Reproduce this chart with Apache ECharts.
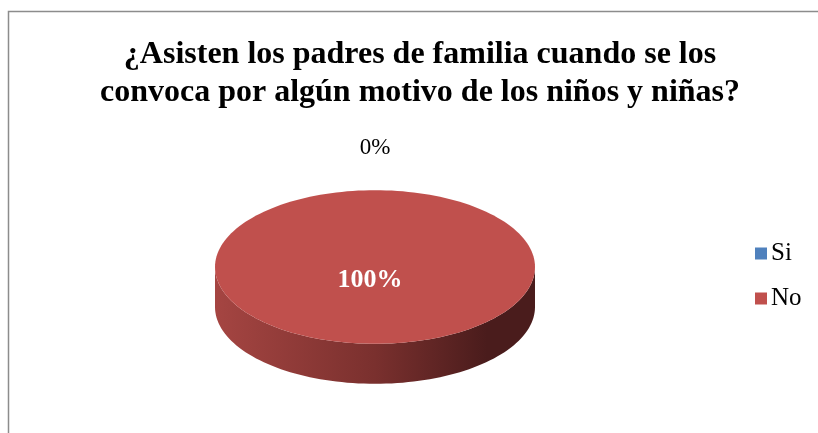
<!DOCTYPE html>
<html>
<head>
<meta charset="utf-8">
<script src="https://cdn.jsdelivr.net/npm/echarts@6/dist/echarts.min.js"></script>
<style>
  html, body { margin: 0; padding: 0; background: #fff; }
  #chart { width: 818px; height: 433px; }
</style>
</head>
<body>
<div id="chart"></div>
<script>
const categories = ['Si', 'No'];
const values = [0, 100];
const colors = ['#4F81BD', '#C0504D'];
const sideStops = [
    ['#4a74a8', '#2f4d73', '#1e3452'],
    ['#a54542', '#7a302e', '#4a1c1c']
];
const titleText = '¿Asisten los padres de familia cuando se los\nconvoca por algún motivo de los niños y niñas?';

const total = values.reduce((a, b) => a + b, 0);
const starts = [];
let acc = 0;
values.forEach(v => { starts.push(acc / total); acc += v; });

// ellipse geometry of the tilted pie
const CX = 375, CY = 267, R = 160, K = 0.48, DEPTH = 40;
const pt = (a, dy) => [CX + R * Math.cos(a), CY + R * K * Math.sin(a) + (dy || 0)];

function arcPoints(a0, a1, dy) {
    const n = Math.max(2, Math.ceil((a1 - a0) / (Math.PI / 90)));
    const pts = [];
    for (let i = 0; i <= n; i++) pts.push(pt(a0 + (a1 - a0) * i / n, dy));
    return pts;
}

function renderSlice(idx) {
    return function (params, api) {
        const frac = api.value(0) / total;
        const a0 = -Math.PI / 2 + starts[idx] * 2 * Math.PI;
        const a1 = a0 + frac * 2 * Math.PI;
        const children = [];
        if (frac > 0) {
            // side wall: part of the slice facing the viewer
            for (let k = -1; k <= 1; k++) {
                const lo = Math.max(a0, 2 * Math.PI * k);
                const hi = Math.min(a1, 2 * Math.PI * k + Math.PI);
                if (hi <= lo) continue;
                const top = arcPoints(lo, hi, 0);
                const bottom = arcPoints(lo, hi, DEPTH).reverse();
                const s = sideStops[idx];
                children.push({
                    type: 'polygon',
                    shape: { points: top.concat(bottom) },
                    style: {
                        fill: {
                            type: 'linear', x: CX - R, y: 0, x2: CX + R, y2: 0, global: true,
                            colorStops: [
                                { offset: 0, color: s[0] },
                                { offset: 0.5, color: s[1] },
                                { offset: 0.85, color: s[2] },
                                { offset: 1, color: s[2] }
                            ]
                        }
                    }
                });
            }
            // top face
            let face = arcPoints(a0, a1, 0);
            if (frac < 1) face = [[CX, CY]].concat(face);
            children.push({
                type: 'polygon',
                shape: { points: face },
                style: { fill: colors[idx] }
            });
        }
        // data label
        const pct = Math.round(frac * 100) + '%';
        let lx, ly, inside;
        if (frac >= 1) {
            lx = CX - 5; ly = CY + 13; inside = true;
        } else {
            const m = (a0 + a1) / 2;
            inside = frac > 0.1;
            if (inside) {
                lx = CX + R * 0.6 * Math.cos(m); ly = CY + R * K * 0.6 * Math.sin(m);
            } else {
                lx = CX + (R + 30) * Math.cos(m); ly = CY + (R * K + 42) * Math.sin(m);
            }
        }
        children.push({
            type: 'text',
            style: {
                x: lx, y: ly, text: pct, align: 'center', verticalAlign: 'middle',
                fill: inside ? '#fff' : '#000',
                font: inside ? 'bold 26px "Liberation Serif"' : '23px "Liberation Serif"'
            }
        });
        return { type: 'group', children: children };
    };
}

const chart = echarts.init(document.getElementById('chart'));
chart.setOption({
    backgroundColor: '#fff',
    animation: false,
    title: {
        text: titleText,
        left: 420,
        textAlign: 'center',
        top: 36,
        padding: 0,
        textStyle: {
            fontFamily: 'Liberation Serif',
            fontWeight: 'bold',
            fontSize: 32,
            lineHeight: 38,
            color: '#000'
        }
    },
    legend: {
        orient: 'vertical',
        left: 750,
        top: 236,
        icon: 'rect',
        itemWidth: 12,
        itemHeight: 12,
        itemGap: 20,
        textStyle: { fontFamily: 'Liberation Serif', fontSize: 25, color: '#000', padding: [0, 0, 0, -1] },
        data: categories
    },
    graphic: [{
        type: 'rect',
        shape: { x: 8.5, y: 11.5, width: 900, height: 500 },
        style: { fill: 'none', stroke: '#8c8c8c', lineWidth: 1.5 },
        silent: true
    }],
    series: categories.map((name, i) => ({
        type: 'custom',
        name: name,
        coordinateSystem: 'none',
        itemStyle: { color: colors[i] },
        renderItem: renderSlice(i),
        data: [[values[i]]]
    }))
});
</script>
</body>
</html>
